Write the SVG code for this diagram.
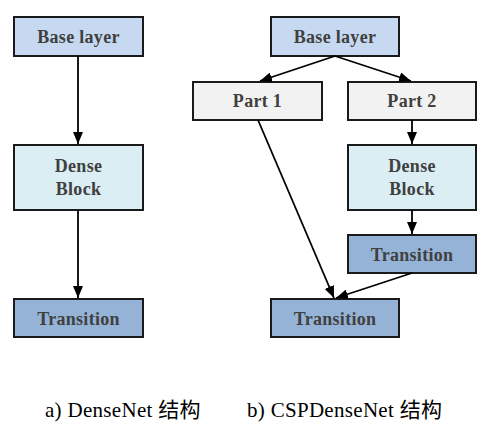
<svg xmlns="http://www.w3.org/2000/svg" width="496" height="431" viewBox="0 0 496 431">
<defs>
<marker id="arr" viewBox="0 0 12 10" refX="12" refY="5" markerWidth="12" markerHeight="10" markerUnits="userSpaceOnUse" orient="auto">
<path d="M0,0 L12,5 L0,10 z" fill="#000"/>
</marker>
<style>
.box{stroke:#1a1a1a;stroke-width:2}
.base{fill:#c6d9f1}
.dense{fill:#dbeef4}
.trans{fill:#95b3d7}
.part{fill:#f2f2f2}
.lbl{font-family:"Liberation Serif","Times New Roman",serif;font-weight:bold;font-size:18px;fill:#404040;text-anchor:middle;letter-spacing:0.3px}
.cap{font-family:"Liberation Serif","Noto Sans CJK SC",serif;font-size:21px;fill:#000;letter-spacing:0.3px}
.edge{stroke:#000;stroke-width:1.8;fill:none;marker-end:url(#arr)}
</style>
</defs>
<g id="a-base"><rect class="box base" x="14" y="17" width="129" height="39"/><text class="lbl" x="78.5" y="43">Base layer</text></g>
<g id="a-dense"><rect class="box dense" x="14" y="145" width="129" height="65"/><text class="lbl" x="78.5" y="172">Dense</text><text class="lbl" x="78.5" y="195">Block</text></g>
<g id="a-trans"><rect class="box trans" x="14" y="299" width="129" height="38"/><text class="lbl" x="78.5" y="325">Transition</text></g>
<g id="b-base"><rect class="box base" x="271" y="17" width="128" height="39"/><text class="lbl" x="335" y="43">Base layer</text></g>
<g id="b-part1"><rect class="box part" x="193" y="82" width="129" height="38"/><text class="lbl" x="257.5" y="107">Part 1</text></g>
<g id="b-part2"><rect class="box part" x="348" y="82" width="128" height="38"/><text class="lbl" x="412" y="107">Part 2</text></g>
<g id="b-dense"><rect class="box dense" x="348" y="145" width="128" height="65"/><text class="lbl" x="412" y="172">Dense</text><text class="lbl" x="412" y="195">Block</text></g>
<g id="b-trans1"><rect class="box trans" x="348" y="235" width="128" height="38"/><text class="lbl" x="412" y="261">Transition</text></g>
<g id="b-trans2"><rect class="box trans" x="271" y="299" width="128" height="38"/><text class="lbl" x="335" y="325">Transition</text></g>
<g id="connectors">
<line class="edge" x1="78" y1="56" x2="78" y2="144"/>
<line class="edge" x1="78" y1="210" x2="78" y2="298"/>
<line class="edge" x1="335" y1="56" x2="260" y2="81"/>
<line class="edge" x1="335" y1="56" x2="411" y2="81"/>
<line class="edge" x1="412" y1="120" x2="412" y2="144"/>
<line class="edge" x1="412" y1="210" x2="412" y2="234"/>
<line class="edge" x1="258" y1="120" x2="334" y2="298"/>
<line class="edge" x1="412" y1="273" x2="336" y2="298"/>
</g>
<g id="captions">
<text class="cap" x="45" y="417">a) DenseNet 结构</text>
<text class="cap" x="247" y="417">b) CSPDenseNet 结构</text>
</g>
</svg>
